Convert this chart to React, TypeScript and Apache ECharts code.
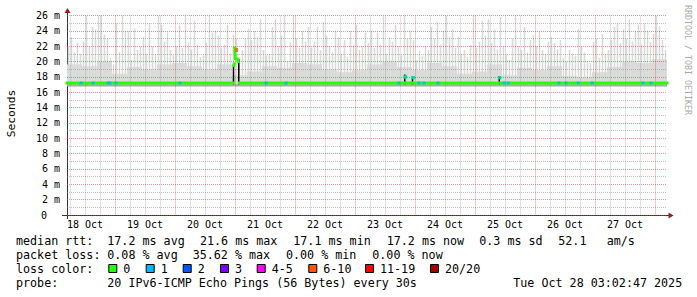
import { useEffect, useRef } from "react";
import * as echarts from "echarts";

const MONO = '"DejaVu Sans Mono", monospace';

// ---- axes (x in hours since 18 Oct 00:00) ----
const X_MIN_H = 4.8;
const X_MAX_H = 244.8;
const Y_MAX_MS = 26;
const Y_STEP_MS = 2;
const dayLabels = ["18 Oct", "19 Oct", "20 Oct", "21 Oct", "22 Oct", "23 Oct", "24 Oct", "25 Oct", "26 Oct", "27 Oct"];
const dayLabelHours = [12, 36, 60, 84, 108, 132, 156, 180, 204, 228];
const GRID_MINOR_H = 6;
const GRID_MAJOR_H = 24;

// ---- smoke (ms) ----
const SMOKE_STEP_H = 1.2;
const smokeSpikeMs = [
  22.0, 23.2, 21.2, 22.4, 21.0, 22.6, 26.2, 22.0, 24.5, 24.2,
  26.2, 26.2, 23.5, 23.0, 20.5, 19.6, 25.0, 21.2, 26.2, 24.0,
  24.0, 20.2, 24.3, 21.5, 22.0, 23.2, 21.0, 25.0, 22.0, 21.0,
  26.2, 24.8, 22.6, 23.8, 21.5, 20.8, 22.0, 24.8, 21.8, 26.2,
  22.5, 21.6, 25.3, 22.2, 20.6, 20.8, 22.4, 26.2, 23.8, 24.0,
  23.4, 21.8, 22.2, 24.8, 21.0, 23.5, 23.0, 20.6, 21.5, 23.0,
  24.3, 22.8, 24.0, 23.2, 25.5, 21.5, 20.8, 21.0, 24.5, 25.5,
  22.0, 23.4, 26.2, 20.0, 22.5, 26.2, 23.0, 21.8, 24.0, 22.6,
  24.5, 21.8, 22.6, 24.5, 21.5, 25.2, 23.4, 22.0, 21.2, 24.0,
  23.2, 21.0, 22.8, 20.6, 24.0, 22.2, 24.8, 21.5, 22.0, 23.8,
  22.4, 24.0, 21.8, 23.8, 22.2, 26.2, 21.0, 23.2, 22.6, 24.8,
  22.0, 20.8, 26.2, 23.0, 24.0, 22.8, 20.2, 21.4, 20.8, 22.0,
  21.5, 24.5, 23.0, 25.2, 22.2, 24.0, 26.2, 23.2, 24.2, 21.8,
  23.2, 21.0, 21.5, 20.6, 22.2, 26.2, 21.8, 22.6, 25.3, 23.4,
  25.5, 22.4, 24.2, 21.6, 25.8, 22.0, 21.0, 20.2, 23.0, 26.2,
  22.0, 21.5, 24.5, 21.2, 22.8, 23.4, 22.0, 24.0, 21.5, 21.0,
  22.6, 23.2, 22.4, 21.6, 22.8, 20.5, 20.0, 21.5, 21.0, 20.8,
  24.2, 22.0, 21.2, 20.0, 19.8, 22.5, 23.0, 20.5, 23.6, 21.0,
  21.5, 22.8, 24.5, 25.0, 22.4, 24.2, 23.0, 25.5, 22.6, 24.0,
  24.8, 22.2, 25.0, 24.0, 22.5, 23.6, 26.0, 24.6, 22.8, 21.5,
];
const SMOKE_BODY_STEP_H = 6;
const smokeBodyMs = [
  19.6, 19.4, 20.0, 18.4, 19.3, 19.0, 19.6, 19.8, 19.4, 19.0,
  19.6, 18.2, 18.7, 19.4, 19.2, 19.8, 19.6, 19.0, 18.6, 18.9,
  19.6, 20.0, 19.3, 18.9, 19.8, 19.4, 18.4, 18.7, 19.6, 18.2,
  19.2, 18.9, 19.4, 18.1, 17.9, 18.6, 19.3, 20.0, 19.8, 20.3,
];
const SMOKE_FLOOR_MS = 17.0;
const LOW_SMOKE_MS = 16.87;

// ---- median rtt (null = break in the line) ----
const medianH = [4.8, 71.2, null, 71.5, 71.7, null, 71.9, 72.1, null, 73.0, 73.3, null, 73.7, 139.7, null, 139.9, 140.3, null, 140.5, 142.9, null, 143.0, 143.4, null, 143.6, 177.5, null, 177.7, 178.0, null, 178.2, 244.8];
const medianMs = [17.2, 17.2, null, 19.5, 19.7, null, 21.8, 20.4, null, 20.3, 20.0, null, 17.2, 17.2, null, 18.0, 18.0, null, 17.2, 17.2, null, 17.9, 17.9, null, 17.2, 17.2, null, 17.9, 17.9, null, 17.2, 17.2];

// dark (dense) smoke at the median jumps
const darkSmokeH = [71.4, 73.5, 139.9, 143.0, 177.7];
const darkSmokeLowMs = [17.0, 17.0, 17.0, 17.0, 17.0];
const darkSmokeHighMs = [19.6, 20.3, 18.3, 18.0, 18.1];

// ---- loss events (pings lost of 20) ----
const lossH = [10.4, 15.2, 21.2, 22.0, 24.4, 50.0, 84.4, 92.4, 137.6, 140.1, 143.2, 145.6, 147.6, 153.2, 177.8, 179.6, 181.2, 201.6, 204.4, 209.2, 214.8, 235.2, 238.4, 72.6];
const lossMs = [17.2, 17.2, 17.2, 17.2, 17.2, 17.2, 17.2, 17.2, 17.2, 18.0, 17.9, 17.2, 17.2, 17.2, 17.9, 17.2, 17.2, 17.2, 17.2, 17.2, 17.2, 17.2, 17.2, 21.5];
const lossCount = [1, 1, 1, 1, 1, 1, 1, 1, 1, 1, 1, 1, 1, 1, 1, 1, 1, 1, 1, 1, 1, 1, 1, 7];

// ---- legend ----
const lossLegendLabels = ["0", "1", "2", "3", "4-5", "6-10", "11-19", "20/20"];
const lossLegendColors = ["#26ff00", "#00b8ff", "#0059ff", "#7e00ff", "#ff00ff", "#ff5500", "#ff0000", "#a10000"];
const lossLegendMax = [0, 1, 2, 3, 5, 10, 19, 20];
const rttStats = ["median rtt:", "17.2 ms avg", "21.6 ms max", "17.1 ms min", "17.2 ms now", "0.3 ms sd", "52.1", "am/s"];
const lossStats = ["packet loss:", "0.08 % avg", "35.62 % max", "0.00 % min", "0.00 % now"];
const probeTexts = ["probe:", "20 IPv6-ICMP Echo Pings (56 Bytes) every 30s", "Tue Oct 28 03:02:47 2025"];
const Y_TITLE = "Seconds";
const WATERMARK = "RRDTOOL / TOBI OETIKER";

// ---- layout (pixels) ----
const rttX = [16, 107.3, 200, 293.3, 386.7, 479.3, 558.3, 606.7];
const lossX = [16, 107.3, 192.7, 286, 372.3];
const probeX = [16, 107.3, 513.3];
const legendBoxX = [108.3, 145.7, 182.7, 220, 256.7, 308.3, 365, 430];
const ROW_Y = [241, 255, 269, 283.3];

function lossColor(n: number) {
  for (let i = 0; i < lossLegendMax.length; i++) if (n <= lossLegendMax[i]) return lossLegendColors[i];
  return lossLegendColors[lossLegendColors.length - 1];
}

export default function App() {
  const ref = useRef<HTMLDivElement>(null);
  useEffect(() => {
    if (!ref.current) return;
    const chart = echarts.init(ref.current, undefined, { renderer: "svg" });

    const gridLines: number[][] = [];
    for (let h = GRID_MINOR_H; h < X_MAX_H; h += GRID_MINOR_H) {
      if (h > X_MIN_H) gridLines.push([h, h % GRID_MAJOR_H === 0 ? 1 : 0]);
    }
    const spikeData = smokeSpikeMs.map((v, i) => [X_MIN_H + SMOKE_STEP_H * (i + 0.5), v]);
    const bodyData = smokeBodyMs.map((v, i) => [X_MIN_H + SMOKE_BODY_STEP_H * (i + 0.5), v]);
    const medianData = medianH.map((h, i) => (h === null ? [medianH[i - 1], null] : [h, medianMs[i]]));
    const darkData = darkSmokeH.map((h, i) => [h, darkSmokeLowMs[i], darkSmokeHighMs[i]]);
    const lossData = lossH.map((h, i) => ({
      value: [h, lossMs[i]],
      itemStyle: { color: lossColor(lossCount[i]) },
      symbolSize: lossCount[i] > 1 ? [3, 4] : [3, 3],
    }));

    const text = (x: number, y: number, s: string, extra: any = {}) => ({
      type: "text",
      x,
      y,
      style: { text: s, fill: "#000", font: `11.7px ${MONO}`, verticalAlign: "middle", align: "left", ...extra },
    });

    const graphics: any[] = [];
    rttStats.forEach((s, i) => graphics.push(text(rttX[i], ROW_Y[0], s)));
    lossStats.forEach((s, i) => graphics.push(text(lossX[i], ROW_Y[1], s)));
    graphics.push(text(16, ROW_Y[2], "loss color:"));
    lossLegendLabels.forEach((s, i) => {
      graphics.push({
        type: "rect",
        shape: { x: legendBoxX[i] + 0.5, y: ROW_Y[2] - 4.5, width: 8, height: 8 },
        style: { fill: lossLegendColors[i], stroke: "#000", lineWidth: 1 },
      });
      graphics.push(text(legendBoxX[i] + 15, ROW_Y[2], s));
    });
    probeTexts.forEach((s, i) => graphics.push(text(probeX[i], ROW_Y[3], s)));
    graphics.push({
      type: "text",
      x: 11,
      y: 113.5,
      rotation: Math.PI / 2,
      style: { text: Y_TITLE, fill: "#000", font: `11.3px ${MONO}`, align: "center", verticalAlign: "middle" },
    });
    graphics.push({
      type: "text",
      x: 688,
      y: 5,
      rotation: -Math.PI / 2,
      style: { text: WATERMARK, fill: "#aaaaaa", font: `8.3px ${MONO}`, align: "left", verticalAlign: "middle" },
    });
    // axis lines with their small extensions and arrows
    graphics.push({ type: "line", shape: { x1: 62, y1: 215.5, x2: 669, y2: 215.5 }, style: { stroke: "#333", lineWidth: 1 } });
    graphics.push({ type: "line", shape: { x1: 67.5, y1: 219, x2: 67.5, y2: 12 }, style: { stroke: "#333", lineWidth: 1 } });
    graphics.push({ type: "polygon", shape: { points: [[64.5, 13], [70.5, 13], [67.5, 8]] }, style: { fill: "#a11a1a" } });
    graphics.push({ type: "polygon", shape: { points: [[668.5, 212.5], [668.5, 218.5], [673.5, 215.5]] }, style: { fill: "#a11a1a" } });

    const option: any = {
      animation: false,
      backgroundColor: "#ffffff",
      grid: { left: 67, right: 30, top: 15.5, bottom: 82 },
      xAxis: {
        type: "value",
        min: X_MIN_H,
        max: X_MAX_H,
        z: 3,
        axisLine: { show: false },
        axisTick: { show: false },
        splitLine: { show: false },
        axisLabel: {
          customValues: dayLabelHours,
          formatter: (v: number) => dayLabels[dayLabelHours.indexOf(v)] ?? "",
          fontFamily: MONO,
          fontSize: 10,
          color: "#000",
          margin: 4,
        },
      },
      yAxis: {
        type: "value",
        min: 0,
        max: Y_MAX_MS,
        interval: Y_STEP_MS,
        z: 3,
        axisLine: { show: false },
        axisTick: { show: false },
        axisLabel: {
          formatter: (v: number) => (v === 0 ? "{z|0}" : `${v} m`),
          fontFamily: MONO,
          fontSize: 10,
          color: "#000",
          margin: 7,
          rich: { z: { fontFamily: MONO, fontSize: 10, color: "#000", padding: [0, 13, 0, 0] } },
        },
        splitLine: { show: true, lineStyle: { color: "rgba(220,60,60,0.55)", type: [1, 1], width: 1 } },
        minorTick: { show: false, splitNumber: 2 },
        minorSplitLine: { show: true, lineStyle: { color: "rgba(120,120,120,0.45)", type: [1, 1], width: 1 } },
      },
      series: [
        {
          type: "custom",
          name: "smoke body",
          z: 1,
          clip: true,
          data: bodyData,
          renderItem: (_p: any, api: any) => {
            const t = api.value(0);
            const a = api.coord([t - SMOKE_BODY_STEP_H / 2, api.value(1)]);
            const b = api.coord([t + SMOKE_BODY_STEP_H / 2, SMOKE_FLOOR_MS]);
            return { type: "rect", shape: { x: a[0], y: a[1], width: b[0] - a[0], height: b[1] - a[1] }, style: { fill: "#dedede" } };
          },
        },
        {
          type: "custom",
          name: "smoke",
          z: 1,
          clip: true,
          data: spikeData,
          renderItem: (_p: any, api: any) => {
            const t = api.value(0);
            const a = api.coord([t, api.value(1)]);
            const b = api.coord([t, SMOKE_FLOOR_MS]);
            return { type: "rect", shape: { x: a[0] - 0.75, y: a[1], width: 1.5, height: b[1] - a[1] }, style: { fill: "#d8d8d8" } };
          },
        },
        {
          type: "line",
          name: "low smoke",
          z: 2,
          data: [[X_MIN_H, LOW_SMOKE_MS], [X_MAX_H, LOW_SMOKE_MS]],
          showSymbol: false,
          lineStyle: { color: "#a8a8a8", width: 2 },
        },
        {
          type: "custom",
          name: "vgrid",
          z: 3,
          data: gridLines,
          renderItem: (_p: any, api: any) => {
            const t = api.value(0);
            const top = api.coord([t, Y_MAX_MS]);
            const bot = api.coord([t, 0]);
            const major = api.value(1) === 1;
            const x = Math.round(top[0]) + 0.5;
            return {
              type: "line",
              shape: { x1: x, y1: top[1], x2: x, y2: bot[1] },
              style: {
                stroke: major ? "rgba(220,60,60,0.55)" : "rgba(120,120,120,0.45)",
                lineWidth: 1,
                lineDash: [1, 1],
              },
            };
          },
        },
        {
          type: "custom",
          name: "dark smoke",
          z: 4,
          clip: true,
          data: darkData,
          renderItem: (_p: any, api: any) => {
            const t = api.value(0);
            const a = api.coord([t, api.value(2)]);
            const b = api.coord([t, api.value(1)]);
            return { type: "rect", shape: { x: a[0] - 0.75, y: a[1], width: 1.5, height: b[1] - a[1] }, style: { fill: "#000" } };
          },
        },
        {
          type: "line",
          name: "median",
          z: 5,
          data: medianData,
          showSymbol: false,
          connectNulls: false,
          lineStyle: { color: "#26ff00", width: 3, cap: "square" },
        },
        {
          type: "scatter",
          name: "loss",
          z: 6,
          symbol: "rect",
          data: lossData,
        },
      ],
      graphic: graphics,
    };
    chart.setOption(option);
    return () => chart.dispose();
  }, []);
  return <div ref={ref} style={{ position: "absolute", left: 0, top: 0, width: 697, height: 297 }} />;
}
